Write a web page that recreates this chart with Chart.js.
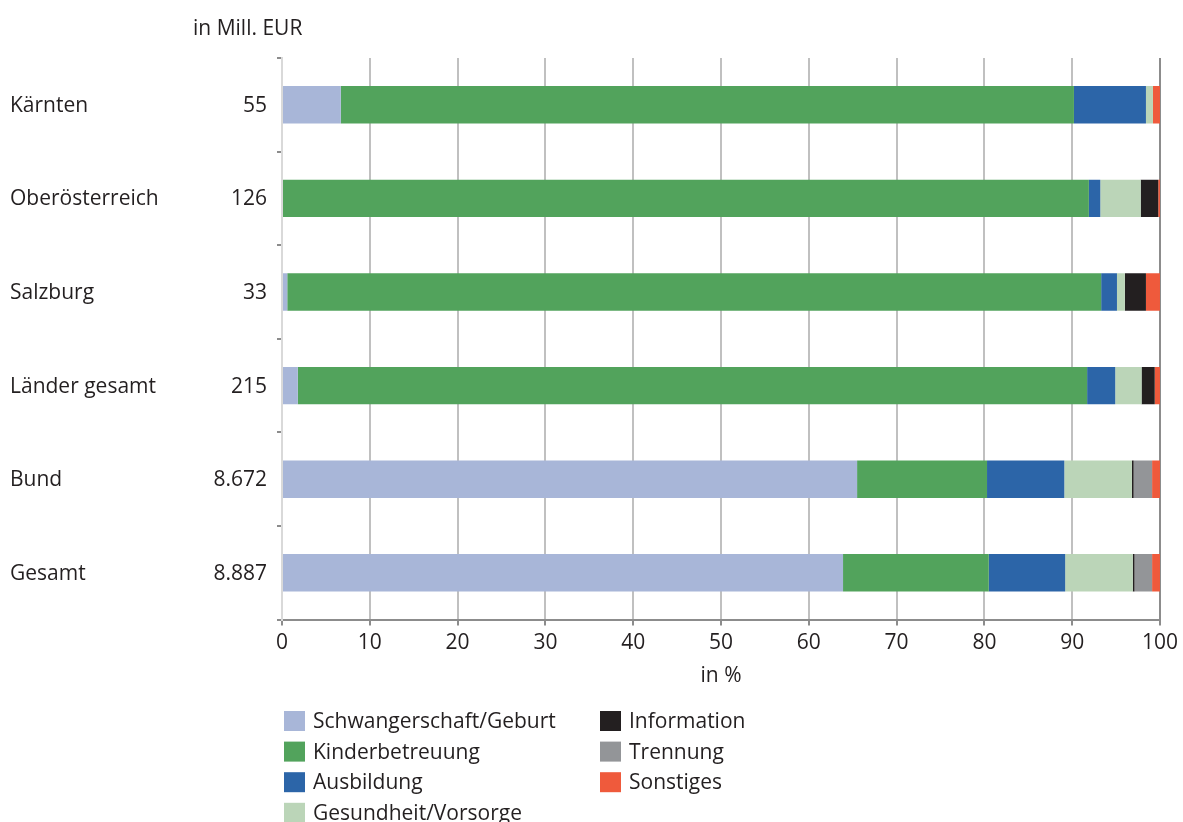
<!DOCTYPE html>
<html>
<head>
<meta charset="utf-8">
<script src="https://cdn.jsdelivr.net/npm/chart.js@4.4.1/dist/chart.umd.min.js"></script>
<style>
html, body { margin: 0; background: #fff; }
#wrap { width: 1183px; height: 822px; }
</style>
</head>
<body>
<div id="wrap"><canvas id="chart"></canvas></div>
<script>
// Daten (Anteile in %)
const regionen = ['Kärnten', 'Oberösterreich', 'Salzburg', 'Länder gesamt', 'Bund', 'Gesamt'];
const mioEur = ['55', '126', '33', '215', '8.672', '8.887'];

const schwangerschaft = [6.7, 0, 0.6, 1.8, 65.5, 63.9];
const kinderbetreuung = [83.5, 91.9, 92.7, 89.9, 14.8, 16.6];
const ausbildung = [8.2, 1.3, 1.8, 3.2, 8.8, 8.7];
const gesundheit = [0.8, 4.6, 0.9, 3.0, 7.7, 7.7];
const information = [0, 2.0, 2.4, 1.5, 0.2, 0.2];
const trennung = [0, 0, 0, 0, 2.1, 2.0];
const sonstiges = [0.8, 0.2, 1.6, 0.6, 0.9, 0.9];

const xMin = 0, xMax = 100, xStep = 10;

const FONT = '"Open Sans", "Noto Sans", sans-serif';
const SIZE = 21;
const TEXT = '#231f20';
Chart.defaults.font.family = FONT;
Chart.defaults.font.size = SIZE;
Chart.defaults.color = TEXT;

// Beschriftungen links + Legende in zwei Spalten
const extraText = {
  id: 'extraText',
  afterDraw(chart) {
    const ctx = chart.ctx;
    const y = chart.scales.y;
    ctx.save();
    ctx.font = SIZE + 'px ' + FONT;
    ctx.fillStyle = TEXT;
    ctx.textBaseline = 'middle';
    regionen.forEach((r, i) => {
      const py = y.getPixelForValue(i) + 1;
      ctx.textAlign = 'left';
      ctx.fillText(r, 10, py);
      ctx.textAlign = 'right';
      ctx.fillText(mioEur[i], 267, py);
    });
    ctx.textAlign = 'left';
    ctx.fillText('in Mill. EUR', 193, 29);

    // Legende
    chart.data.datasets.forEach((ds, i) => {
      const col = i < 4 ? 0 : 1;
      const row = i < 4 ? i : i - 4;
      const bx = col === 0 ? 284 : 600;
      const cy = 721 + row * 30.6;
      ctx.fillStyle = ds.backgroundColor;
      ctx.fillRect(bx, cy - 10, 21, 20);
      ctx.fillStyle = TEXT;
      ctx.fillText(ds.label, bx + 29, cy + 1);
    });
    ctx.restore();
  }
};

new Chart(document.getElementById('chart'), {
  type: 'bar',
  data: {
    labels: regionen,
    datasets: [
      { label: 'Schwangerschaft/Geburt', data: schwangerschaft, backgroundColor: '#a8b6d8' },
      { label: 'Kinderbetreuung', data: kinderbetreuung, backgroundColor: '#52a35c' },
      { label: 'Ausbildung', data: ausbildung, backgroundColor: '#2c65a8' },
      { label: 'Gesundheit/Vorsorge', data: gesundheit, backgroundColor: '#bbd5b8' },
      { label: 'Information', data: information, backgroundColor: '#231f20' },
      { label: 'Trennung', data: trennung, backgroundColor: '#939598' },
      { label: 'Sonstiges', data: sonstiges, backgroundColor: '#ef5a3c' }
    ]
  },
  options: {
    indexAxis: 'y',
    responsive: true,
    maintainAspectRatio: false,
    animation: false,
    categoryPercentage: 1,
    barPercentage: 0.4,
    layout: { padding: { left: 0, right: 22, top: 58, bottom: 133 } },
    plugins: {
      legend: { display: false },
      tooltip: { enabled: false }
    },
    scales: {
      x: {
        stacked: true,
        min: xMin,
        max: xMax,
        ticks: { stepSize: xStep, padding: 5, color: TEXT, font: { size: SIZE } },
        grid: {
          lineWidth: 2,
          tickLength: 6,
          tickColor: '#8c8c8c',
          color: (c) => {
            if (c.tick && c.tick.value === 0) return '#d9d9d9';
            if (c.tick && c.tick.value === 100) return '#8c8c8c';
            return '#c0c0c0';
          }
        },
        border: { color: '#8c8c8c', width: 2 },
        title: { display: true, text: 'in %', color: TEXT, font: { size: SIZE }, padding: { top: 3, bottom: 0 } }
      },
      y: {
        stacked: true,
        ticks: { callback: () => '' },
        grid: { drawOnChartArea: false, tickLength: 5, color: '#8c8c8c', lineWidth: 2 },
        border: { color: '#d9d9d9', width: 2 },
        afterFit(s) { s.width = 282; }
      }
    }
  },
  plugins: [extraText]
});
</script>
</body>
</html>
